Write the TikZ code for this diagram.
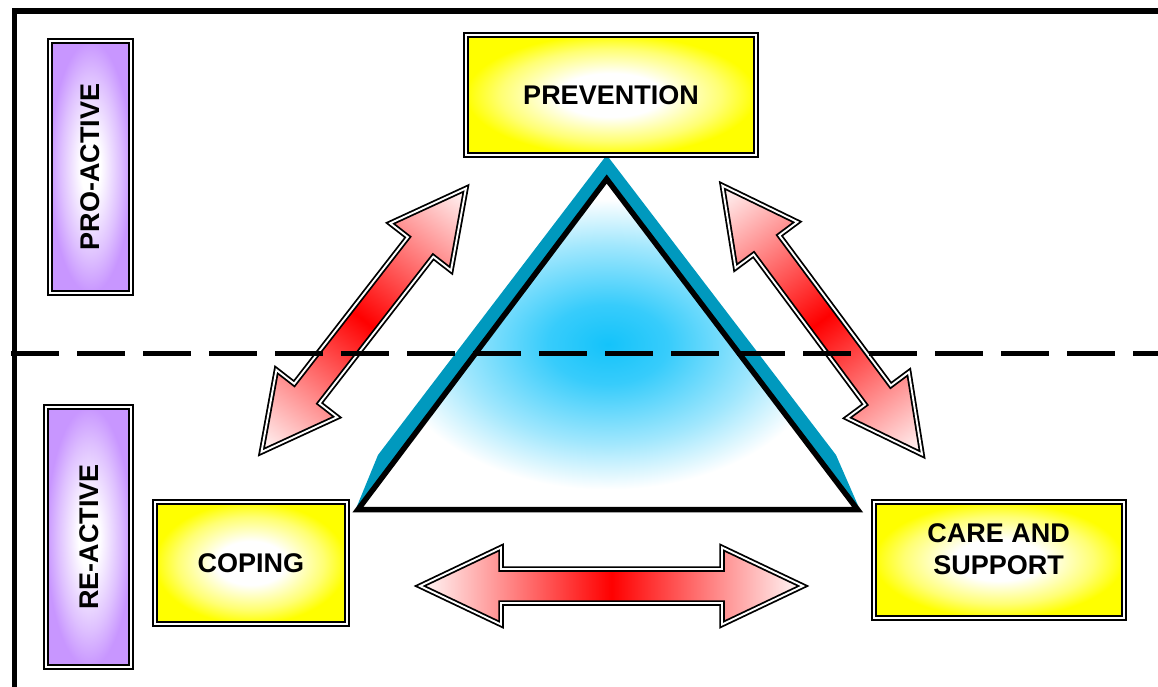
\documentclass[tikz,border=0pt]{standalone}
\usepackage{fontspec}
\setmainfont{Liberation Sans}
\usepackage{xcolor}
\usetikzlibrary{shadings}
\definecolor{boxyellow}{RGB}{255,255,0}
\definecolor{lavender}{RGB}{200,150,255}
\definecolor{tealshadow}{RGB}{0,153,190}
\definecolor{skyglow}{RGB}{20,195,250}
\definecolor{arrowred}{RGB}{255,0,0}
\pgfdeclareradialshading{triglow}{\pgfpoint{0bp}{0bp}}{color(0bp)=(skyglow); color(6bp)=(skyglow!85!white); color(15bp)=(skyglow!40!white); color(22bp)=(white); color(50bp)=(white)}
\pgfdeclareradialshading{yellowglow}{\pgfpoint{0bp}{0bp}}{color(0bp)=(white); color(9bp)=(white); color(19bp)=(boxyellow!55!white); color(25bp)=(boxyellow); color(50bp)=(boxyellow)}
\pgfdeclareradialshading{lilacglow}{\pgfpoint{0bp}{0bp}}{color(0bp)=(white); color(6bp)=(white); color(18bp)=(lavender!60!white); color(25bp)=(lavender); color(50bp)=(lavender)}

\begin{document}
\begin{tikzpicture}[x=1pt,y=-1pt,
  labeltext/.style={font=\fontsize{27}{31.6}\selectfont\bfseries},
  sidebox/.style={draw=black,line width=2pt,double=white,double distance=2.2pt,shading=lilacglow,rotate=90,labeltext},
  areabox/.style={draw=black,line width=2pt,double=white,double distance=2.2pt,shading=yellowglow,labeltext,align=center},
  blockarrow/.style={draw=black,line width=1.8pt,double=white,double distance=1.9pt,line join=miter,left color=red!2,right color=red!2,middle color=arrowred}]
  \useasboundingbox (0,0) rectangle (1158,686);
  % triangle with its shadow, three two-way arrows, the area boxes, then the split line
  \fill[tealshadow] (606.7,155) -- (836,455) -- (860,510) -- (355,511) -- (378,455) -- cycle;
  \shadedraw[shading=triglow,draw=black,line width=5.5pt,line join=miter] (606.7,179) -- (857.5,509.5) -- (358,509.5) -- cycle;
  \foreach \cx/\cy/\ang/\len/\hd/\sh in {363.7/320.2/52.2/166.8/74/16, 822.2/320/-53.4/167.5/74/16, 611.5/586/0/191.5/81/17}{
    \begin{scope}[transform canvas={shift={(\cx,\cy)},rotate=\ang}]
      \shadedraw[blockarrow] (-\len,0) -- (-\len+\hd,38.5) -- (-\len+\hd,\sh) -- (\len-\hd,\sh) -- (\len-\hd,38.5) -- (\len,0)
        -- (\len-\hd,-38.5) -- (\len-\hd,-\sh) -- (-\len+\hd,-\sh) -- (-\len+\hd,-38.5) -- cycle;
    \end{scope}
  }
  \node[sidebox,minimum width=251.4pt,minimum height=81.6pt] (proactive) at (90.5,167) {PRO-ACTIVE};
  \node[sidebox,minimum width=260pt,minimum height=85pt] (reactive) at (88.8,537) {RE-ACTIVE};
  \node[areabox,minimum width=290.6pt,minimum height=120.6pt] (prevention) at (611,95) {PREVENTION};
  \node[areabox,minimum width=192.3pt,minimum height=121.4pt] (coping) at (250.8,563) {COPING};
  \node[areabox,minimum width=250pt,minimum height=115.4pt] (care) at (998.7,560) {};
  \node[labeltext,align=center] (caretext) at ([yshift=11pt]care.center) {CARE AND\\SUPPORT};
  \draw[line width=5.5pt,line join=miter] (1162,11) -- (14.5,11) -- (14.5,690);
  \draw[line width=5.5pt,dash pattern=on 48pt off 18pt] (11,353.5) -- (1162,353.5);
\end{tikzpicture}
\end{document}
